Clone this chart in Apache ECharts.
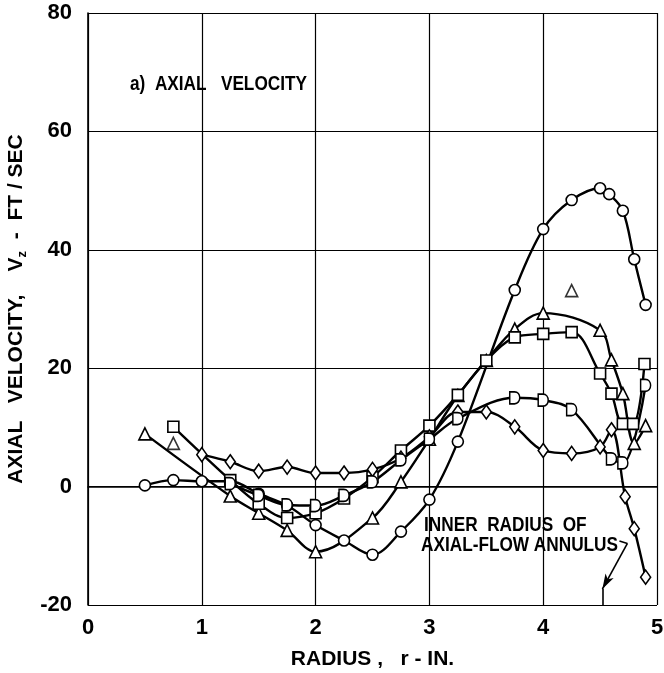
<!DOCTYPE html>
<html>
<head>
    <meta charset="utf-8">
    <title>Axial velocity</title>
    <script src="https://cdn.jsdelivr.net/npm/echarts@6/dist/echarts.min.js"></script>
</head>
<body style="margin:0;background:#fff">
    <div id="main" style="width:664px;height:673px;"></div>
    <script type="text/javascript">
        // radius (in.) and axial velocity (ft/sec)
        var circleR = [0.5, 0.75, 1.0, 1.25, 1.5, 1.75, 2.0, 2.25, 2.5, 2.75, 3.0, 3.25, 3.75, 4.0, 4.25, 4.5, 4.58, 4.7, 4.8, 4.9];
        var circleV = [0.2, 1.1, 0.9, 0.9, -1.2, -3.2, -6.5, -9.1, -11.5, -7.6, -2.2, 7.6, 33.2, 43.5, 48.4, 50.4, 49.4, 46.6, 38.4, 30.7];

        var triR = [0.5, 1.25, 1.5, 1.75, 2.0, 2.5, 2.75, 3.0, 3.25, 3.5, 3.75, 4.0, 4.5, 4.6, 4.7, 4.8, 4.9];
        var triV = [8.9, -1.6, -4.5, -7.4, -11, -5.3, 0.8, 8, 15.4, 21.3, 26.6, 29.3, 26.4, 21.4, 15.7, 7.3, 10.3];
        // triangles lying off the faired curve
        var triOffR = [0.75, 4.25];
        var triOffV = [7.3, 33.1];

        var sqR = [0.75, 1.25, 1.5, 1.75, 2.0, 2.25, 2.5, 2.75, 3.0, 3.25, 3.5, 3.75, 4.0, 4.25, 4.5, 4.6, 4.7, 4.79, 4.89];
        var sqV = [10.1, 1.1, -2.9, -5.3, -4.5, -2.0, 1.6, 6.1, 10.3, 15.5, 21.3, 25.2, 25.8, 26.1, 19.1, 15.7, 10.6, 10.6, 20.7];

        var diaR = [1.0, 1.25, 1.5, 1.75, 2.0, 2.25, 2.5, 2.75, 3.0, 3.25, 3.5, 3.75, 4.0, 4.25, 4.5, 4.6, 4.72, 4.8, 4.9];
        var diaV = [5.4, 4.2, 2.6, 3.3, 2.3, 2.3, 2.9, 4.8, 8.4, 12.6, 12.6, 10.1, 6.1, 5.6, 6.7, 9.6, -1.7, -7.1, -15.3];

        var dR = [1.25, 1.5, 1.75, 2.0, 2.25, 2.5, 2.75, 3.0, 3.25, 3.75, 4.0, 4.25, 4.6, 4.7, 4.9];
        var dV = [0.5, -1.5, -3.1, -3.2, -1.5, 0.8, 4.5, 8.0, 11.5, 15.0, 14.6, 13.0, 4.7, 4.0, 17.1];

        var xTicks = [0, 1, 2, 3, 4, 5];
        var yTicks = [-20, 0, 20, 40, 60, 80];

        // inner radius of the axial-flow annulus
        var innerR = 4.52;

        function pairs(xs, ys) {
            return xs.map(function (x, i) { return [x, ys[i]]; });
        }

        var FONT = 'Liberation Sans';
        var dShape = 'path://M0,0 L4,0 C10,0 10,12 4,12 L0,12 Z';
        var hollow = { color: '#fff', borderColor: '#000', borderWidth: 1.6 };

        function curve(name, xs, ys, symbol, size) {
            return {
                name: name,
                type: 'line',
                smooth: 0.35,
                data: pairs(xs, ys),
                symbol: symbol,
                symbolSize: size,
                showAllSymbol: true,
                lineStyle: { color: '#000', width: 2.4 },
                itemStyle: hollow,
                z: 3
            };
        }

        function note(text, x, y) {
            return {
                type: 'text', x: x, y: y, scaleX: 0.82,
                style: { text: text, fill: '#000', font: 'bold 21px "Liberation Sans"', verticalAlign: 'middle' }
            };
        }

        var myChart = echarts.init(document.getElementById('main'));

        var option = {
            backgroundColor: '#fff',
            animation: false,
            grid: { left: 88, right: 7, top: 13, bottom: 68, outerBoundsMode: 'none', containLabel: false },
            xAxis: {
                type: 'value',
                min: xTicks[0],
                max: xTicks[xTicks.length - 1],
                interval: 1,
                name: 'RADIUS ,   r - IN.',
                nameLocation: 'middle',
                nameGap: 44,
                nameTextStyle: { color: '#000', fontFamily: FONT, fontSize: 21, fontWeight: 'bold' },
                axisLine: { lineStyle: { color: '#000', width: 1.6 } },
                axisTick: { show: false },
                axisLabel: { color: '#000', fontFamily: FONT, fontSize: 22, fontWeight: 'bold', margin: 12 },
                splitLine: { lineStyle: { color: '#000', width: 1.2 } }
            },
            yAxis: {
                type: 'value',
                min: yTicks[0],
                max: yTicks[yTicks.length - 1],
                interval: 20,
                name: '{t|AXIAL   VELOCITY,    V}{s|z}{t|  -  FT / SEC}',
                nameLocation: 'middle',
                nameGap: 50,
                nameTextStyle: {
                    rich: {
                        t: { color: '#000', fontFamily: FONT, fontSize: 21, fontWeight: 'bold', lineHeight: 26 },
                        s: { color: '#000', fontFamily: FONT, fontSize: 13, fontWeight: 'bold', lineHeight: 26, padding: [14, 0, 0, 0] }
                    }
                },
                axisLine: { show: true, lineStyle: { color: '#000', width: 1.6 } },
                axisTick: { show: false },
                axisLabel: { color: '#000', fontFamily: FONT, fontSize: 22, fontWeight: 'bold', margin: 16 },
                splitLine: { lineStyle: { color: '#000', width: 1.2 } }
            },
            series: [
                curve('circle', circleR, circleV, 'circle', 11),
                curve('triangle', triR, triV, 'triangle', 12),
                {
                    name: 'triangle extra',
                    type: 'scatter',
                    data: pairs(triOffR, triOffV),
                    symbol: 'triangle',
                    symbolSize: 12,
                    itemStyle: hollow,
                    z: 4
                },
                curve('square', sqR, sqV, 'rect', 11),
                curve('diamond', diaR, diaV, 'diamond', [10, 14]),
                curve('half', dR, dV, dShape, [10, 12]),
                {
                    name: 'inner radius',
                    type: 'line',
                    data: [],
                    markLine: {
                        silent: true,
                        symbol: ['none', 'none'],
                        label: { show: false },
                        lineStyle: { color: '#000', width: 1.6, type: 'solid' },
                        data: [
                            [{ coord: [4.74, -9.6], symbol: 'none' }, { coord: [innerR, -17.3], symbol: 'arrow', symbolSize: [7, 15] }],
                            [{ coord: [innerR, -17.3] }, { coord: [innerR, -20] }],
                            [{ coord: [4.67, -9.2] }, { coord: [4.74, -9.6] }]
                        ]
                    }
                }
            ],
            graphic: [
                note('a)  AXIAL   VELOCITY', 130, 84),
                note('INNER  RADIUS  OF', 424, 525),
                note('AXIAL-FLOW ANNULUS', 421, 545)
            ]
        };

        myChart.setOption(option);
    </script>
</body>
</html>
